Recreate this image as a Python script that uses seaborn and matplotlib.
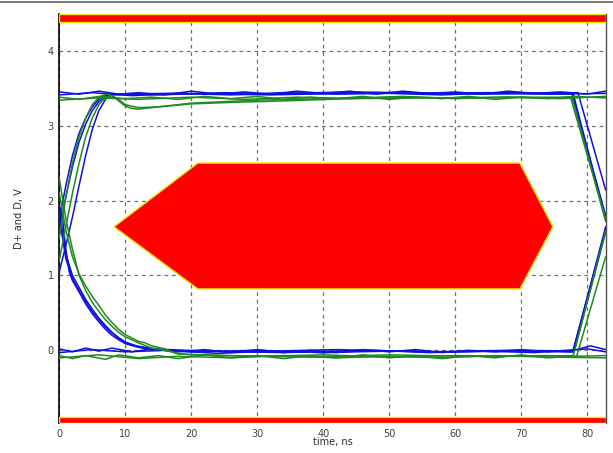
import matplotlib
matplotlib.use('Agg')
import matplotlib.pyplot as plt
from matplotlib.lines import Line2D
import pandas as pd
import seaborn as sns

# eye diagram traces, (time ns, volts)
blue_high_a = [(0, 3.45), (3, 3.42), (6, 3.46), (9, 3.42), (12, 3.44), (16, 3.41), (20, 3.46),
               (24, 3.42), (28, 3.45), (32, 3.42), (36, 3.46), (40, 3.43), (44, 3.46), (48, 3.42),
               (52, 3.46), (56, 3.43), (60, 3.45), (64, 3.42), (68, 3.46), (72, 3.43), (76, 3.45),
               (80, 3.42), (82.8, 3.46)]
blue_high_b = [(0, 3.41), (5, 3.44), (11, 3.40), (18, 3.43), (26, 3.41), (34, 3.44), (42, 3.42),
               (50, 3.43), (58, 3.41), (66, 3.44), (74, 3.42), (82.8, 3.43)]
blue_rise_a = [(0, 1.75), (1, 2.2), (2, 2.6), (3, 2.9), (4, 3.1), (5, 3.25), (6, 3.35), (7, 3.4),
               (8, 3.42), (15, 3.41), (25, 3.44), (35, 3.42), (45, 3.44), (55, 3.43), (65, 3.44),
               (77.9, 3.42), (82.8, 1.75)]
blue_rise_c = [(0, 1.62), (1, 2.05), (2, 2.45), (3, 2.78), (4, 3.02), (5, 3.2), (6, 3.32), (7, 3.38),
               (8, 3.41), (18, 3.43), (32, 3.41), (48, 3.44), (64, 3.42), (77.7, 3.43), (82.8, 1.8)]
blue_rise_b = [(0, 1.05), (1, 1.4), (2, 1.78), (3, 2.2), (4, 2.6), (5, 2.95), (6, 3.2), (7, 3.35),
               (8, 3.42), (16, 3.43), (30, 3.42), (44, 3.45), (60, 3.43), (78.6, 3.44), (82.8, 2.14)]
blue_fall_a = [(0, 1.95), (0.5, 1.75), (1, 1.35), (1.5, 1.05), (2, 0.93), (3, 0.78), (4, 0.62),
               (5, 0.49), (6, 0.38), (7, 0.28), (8, 0.2), (9, 0.14), (10, 0.09), (12, 0.04),
               (14, 0.01), (20, -0.02), (30, 0.0), (40, -0.03), (50, -0.01), (60, -0.02),
               (70, 0.0), (77.9, -0.01), (82.8, 1.65)]
blue_fall_b = [(0, 1.85), (0.5, 1.6), (1, 1.28), (2, 1.0), (3, 0.84), (4, 0.68), (5, 0.55),
               (6, 0.43), (7, 0.33), (8, 0.24), (9, 0.17), (10, 0.11), (12, 0.05), (14, 0.02),
               (22, -0.01), (34, -0.03), (46, 0.0), (58, -0.02), (70, -0.01), (77.8, -0.02),
               (82.8, 1.62)]
blue_fall_c = [(0, 1.75), (0.5, 1.5), (1, 1.22), (2, 0.96), (3, 0.8), (4, 0.65), (5, 0.52),
               (6, 0.41), (7, 0.31), (8, 0.23), (9, 0.16), (10, 0.11), (11, 0.07), (13, 0.04),
               (16, 0.0), (28, -0.02), (42, 0.01), (56, -0.02), (68, 0.0), (78.0, -0.02),
               (82.8, 1.58)]
blue_low_a = [(0, 0.02), (2, -0.02), (4, 0.03), (6, -0.01), (8, 0.03), (11, -0.02), (14, 0.02),
              (18, -0.02), (22, 0.01), (26, -0.03), (30, 0.01), (34, -0.03), (38, 0.0), (42, -0.03),
              (46, 0.01), (50, -0.02), (54, 0.01), (58, -0.03), (62, 0.0), (66, -0.02), (70, 0.01),
              (74, -0.02), (78, 0.0), (80.5, 0.06), (82.8, 0.01)]
blue_low_b = [(0, -0.03), (5, 0.01), (10, -0.02), (16, 0.0), (24, -0.04), (32, -0.01), (40, -0.03),
              (48, 0.0), (56, -0.03), (64, -0.01), (72, -0.03), (80, 0.02), (82.8, -0.02)]

green_high_a = [(0, 3.38), (3, 3.35), (6, 3.39), (10, 3.36), (14, 3.38), (18, 3.35), (22, 3.39),
                (26, 3.36), (30, 3.39), (34, 3.35), (38, 3.38), (42, 3.36), (46, 3.39), (50, 3.35),
                (54, 3.38), (58, 3.36), (62, 3.39), (66, 3.35), (70, 3.38), (74, 3.36), (78, 3.39),
                (82.8, 3.37)]
green_high_b = [(0, 3.34), (6, 3.37), (12, 3.35), (20, 3.38), (28, 3.35), (36, 3.38), (44, 3.36),
                (52, 3.39), (60, 3.36), (68, 3.38), (76, 3.36), (82.8, 3.39)]
green_rise_a = [(0, 1.5), (1, 2.05), (2, 2.5), (3, 2.85), (4, 3.1), (5, 3.28), (6, 3.38), (7, 3.42),
                (8, 3.4), (9, 3.33), (10, 3.26), (11, 3.23), (12, 3.22), (14, 3.24), (17, 3.27),
                (20, 3.3), (25, 3.32), (30, 3.34), (40, 3.36), (50, 3.38), (60, 3.37),
                (77.7, 3.38), (82.8, 1.72)]
green_rise_b = [(0, 1.2), (1, 1.65), (2, 2.1), (3, 2.5), (4, 2.85), (5, 3.1), (6, 3.28), (7, 3.38),
                (8, 3.4), (9, 3.35), (10, 3.28), (12, 3.24), (15, 3.25), (20, 3.29), (26, 3.31),
                (34, 3.33), (44, 3.36), (56, 3.37), (68, 3.38), (77.5, 3.37), (82.8, 1.76)]
green_fall_a = [(0, 2.3), (1, 1.75), (2, 1.35), (3, 1.0), (4, 0.8), (5, 0.64), (6, 0.52), (7, 0.41),
                (8, 0.32), (9, 0.24), (10, 0.18), (12, 0.1), (14, 0.03), (16, 0.0), (18, -0.04),
                (20, -0.06), (30, -0.08), (40, -0.06), (50, -0.09), (60, -0.07), (70, -0.08),
                (77.9, -0.07), (82.8, 1.6)]
green_fall_b = [(0, 2.1), (1, 1.6), (2, 1.25), (3, 1.02), (4, 0.86), (5, 0.72), (6, 0.6), (7, 0.47),
                (8, 0.37), (9, 0.28), (10, 0.21), (12, 0.12), (13, 0.1), (14, 0.06), (16, 0.02),
                (18, -0.05), (26, -0.07), (38, -0.09), (50, -0.06), (62, -0.08), (74, -0.07),
                (78.4, -0.08), (82.8, 1.25)]
green_low_a = [(0, -0.07), (2, -0.11), (4, -0.07), (7, -0.12), (9, -0.06), (12, -0.1), (15, -0.07),
               (18, -0.11), (22, -0.06), (26, -0.1), (30, -0.07), (34, -0.11), (38, -0.07),
               (42, -0.1), (46, -0.06), (50, -0.1), (54, -0.07), (58, -0.11), (62, -0.07),
               (66, -0.1), (70, -0.06), (74, -0.1), (78, -0.08), (82.8, -0.07)]
green_low_b = [(0, -0.1), (6, -0.06), (12, -0.11), (18, -0.08), (26, -0.1), (34, -0.07),
               (42, -0.1), (50, -0.08), (58, -0.1), (66, -0.07), (74, -0.09), (82.8, -0.1)]

# eye mask polygon and the upper / lower keep-out bands
mask_t = [8.3, 21.0, 69.8, 74.8, 69.8, 21.0]
mask_v = [1.65, 2.5, 2.5, 1.65, 0.82, 0.82]
upper_band = (4.38, 4.49)
lower_band = (-0.97, -0.89)

x_ticks = [0, 10, 20, 30, 40, 50, 60, 70, 80]
y_ticks = [0, 1, 2, 3, 4]

traces = {
    'blue_high_a': ('D+', blue_high_a), 'blue_high_b': ('D+', blue_high_b),
    'blue_rise_a': ('D+', blue_rise_a), 'blue_rise_b': ('D+', blue_rise_b),
    'blue_rise_c': ('D+', blue_rise_c),
    'blue_fall_a': ('D+', blue_fall_a), 'blue_fall_b': ('D+', blue_fall_b),
    'blue_fall_c': ('D+', blue_fall_c),
    'blue_low_a': ('D+', blue_low_a), 'blue_low_b': ('D+', blue_low_b),
    'green_high_a': ('D-', green_high_a), 'green_high_b': ('D-', green_high_b),
    'green_rise_a': ('D-', green_rise_a), 'green_rise_b': ('D-', green_rise_b),
    'green_fall_a': ('D-', green_fall_a), 'green_fall_b': ('D-', green_fall_b),
    'green_low_a': ('D-', green_low_a), 'green_low_b': ('D-', green_low_b),
}
rows = []
for name, (sig, pts) in traces.items():
    for t, v in pts:
        rows.append({'trace': name, 'signal': sig, 'time': t, 'volts': v})
df = pd.DataFrame(rows)

sns.set_style('white')
plt.rcParams['font.family'] = ['DejaVu Sans']

fig = plt.figure(figsize=(6.13, 4.53), dpi=100)
ax = fig.add_axes([0.0967, 0.0662, 0.8913, 0.9029])

ax.set_xlim(0, 82.8)
ax.set_ylim(lower_band[0], upper_band[1])
ax.set_xticks(x_ticks)
ax.set_yticks(y_ticks)
ax.grid(True, linestyle=(0, (3, 3)), color='#707070', linewidth=0.9)
ax.set_axisbelow(True)

sns.lineplot(data=df, x='time', y='volts', hue='signal', units='trace', estimator=None,
             sort=False, palette={'D+': '#1010e0', 'D-': '#1f8a1f'}, linewidth=1.1,
             legend=False, ax=ax, zorder=3)

ax.fill(mask_t, mask_v, facecolor='#ff0000', edgecolor='#f0e000', linewidth=1.0, zorder=4)
ax.axhspan(upper_band[0], upper_band[1], facecolor='#ff0000', edgecolor='#f0e000',
           linewidth=1.0, zorder=5)
ax.axhspan(lower_band[0], lower_band[1], facecolor='#ff0000', edgecolor='#f0e000',
           linewidth=1.0, zorder=5)

for side in ['top', 'bottom']:
    ax.spines[side].set_visible(False)
ax.spines['left'].set_color('black')
ax.spines['left'].set_linewidth(1.2)
ax.spines['right'].set_color('#505050')
ax.spines['right'].set_linewidth(1.0)

ax.tick_params(axis='both', length=0, labelsize=7, labelcolor='#404040')
ax.tick_params(axis='x', pad=4)
ax.tick_params(axis='y', pad=4)
ax.set_xlabel('time, ns', fontsize=7, color='#303030', labelpad=-1)
ax.set_ylabel('D+ and D, V', fontsize=7, color='#303030', labelpad=17)

fig.add_artist(Line2D([0, 1], [0.996, 0.996], color='#606060', linewidth=1.2))

fig.savefig('out.png', dpi=100)
